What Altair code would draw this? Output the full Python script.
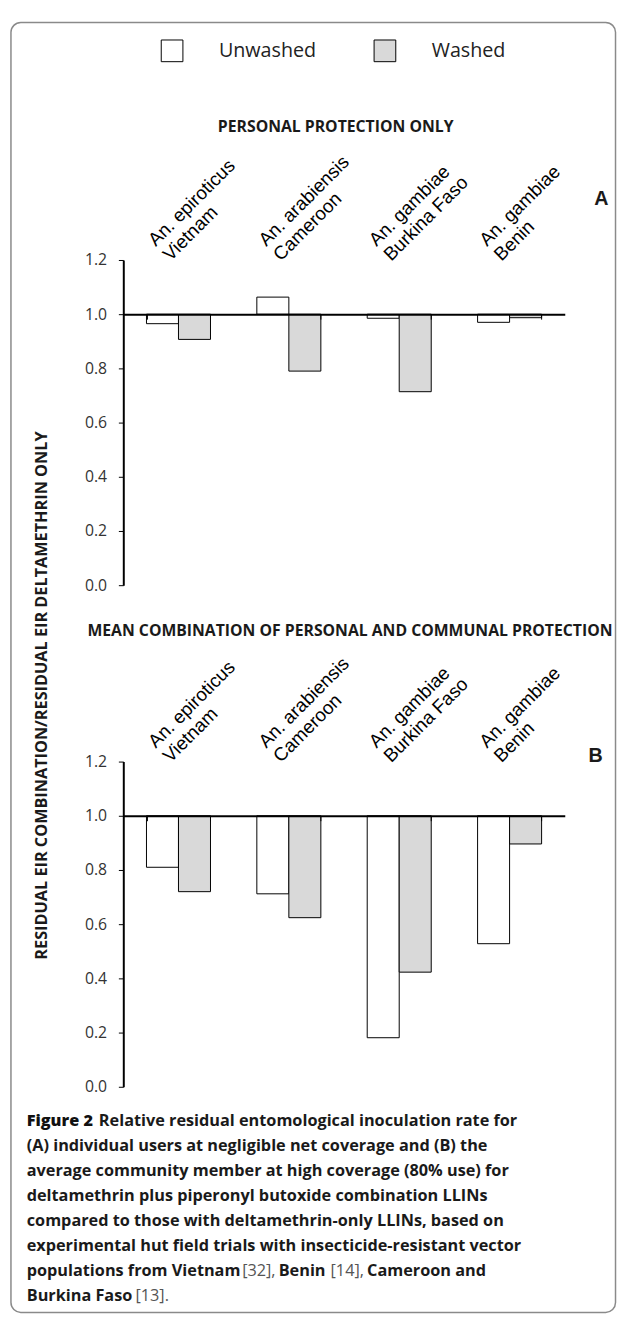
import altair as alt
import pandas as pd

# ---------------- data ----------------
species = ["An. epiroticus", "An. arabiensis", "An. gambiae", "An. gambiae"]
countries = ["Vietnam", "Cameroon", "Burkina Faso", "Benin"]
series = ["Unwashed", "Washed"]

unwashed_A = [0.965, 1.063, 0.985, 0.970]
washed_A = [0.907, 0.790, 0.714, 0.987]
unwashed_B = [0.810, 0.712, 0.181, 0.528]
washed_B = [0.720, 0.624, 0.423, 0.896]

y_ticks = [0.0, 0.1, 0.2, 0.3, 0.4, 0.5, 0.6, 0.7, 0.8, 0.9, 1.0, 1.1, 1.2]

caption_lines = [
    "(A) individual users at negligible net coverage and (B) the",
    "average community member at high coverage (80% use) for",
    "deltamethrin plus piperonyl butoxide combination LLINs",
    "compared to those with deltamethrin-only LLINs, based on",
    "experimental hut field trials with insecticide-resistant vector",
]

W, H = 448, 330
FONT = "Open Sans"


def bar_df(unw, wsh):
    rows = []
    for c, u, w in zip(countries, unw, wsh):
        rows.append({"cat": c, "wash": "Unwashed", "value": u})
        rows.append({"cat": c, "wash": "Washed", "value": w})
    return pd.DataFrame(rows)


label_df = pd.DataFrame({"cat": countries,
                         "label": [s + "\n" + c for s, c in zip(species, countries)]})


def txt(s, x, y, align="left", baseline="alphabetic", **kw):
    return alt.Chart(pd.DataFrame({"t": [s]})).mark_text(
        align=align, baseline=baseline, **kw
    ).encode(x=alt.value(x), y=alt.value(y), text="t:N")


x_enc = alt.X(
    "cat:N", sort=countries, title=None,
    scale=alt.Scale(paddingInner=0.42, paddingOuter=0.21),
    axis=alt.Axis(orient="bottom", offset=-275, labels=False, title=None,
                  domainColor="black", domainWidth=2, tickColor="black",
                  tickWidth=1, tickSize=5, tickBand="extent", grid=False,
                  zindex=1),
)

y_axis = alt.Axis(values=y_ticks, title=None, grid=False,
                  labelExpr="(round(datum.value*10) % 2 == 0) ? format(datum.value, '.1f') : ''",
                  tickSize=5, tickColor="black", tickWidth=1,
                  domainColor="black", domainWidth=2,
                  labelFont=FONT, labelFontSize=16, labelColor="#333333",
                  labelPadding=12)

fill_enc = alt.Fill(
    "wash:N", sort=series, title=None,
    scale=alt.Scale(domain=series, range=["white", "#d9d9d9"]),
    legend=alt.Legend(orient="none", legendX=38, legendY=-224,
                      direction="horizontal", title=None,
                      symbolType="square", symbolSize=484,
                      symbolStrokeColor="black", symbolStrokeWidth=1,
                      labelFont=FONT, labelFontSize=20, labelColor="#222222",
                      labelOffset=36, columnPadding=56),
)


def panel(unw, wsh):
    bars = alt.Chart(bar_df(unw, wsh)).mark_bar(stroke="black", strokeWidth=1).encode(
        x=x_enc,
        xOffset=alt.XOffset("wash:N", sort=series,
                            scale=alt.Scale(paddingInner=0, paddingOuter=0)),
        y=alt.Y("value:Q", scale=alt.Scale(domain=[0, 1.2], nice=False), axis=y_axis),
        y2=alt.datum(1.0),
        fill=fill_enc,
    )
    labels = alt.Chart(label_df).mark_text(
        align="left", baseline="alphabetic", angle=315, dx=-7, dy=-25.5,
        lineBreak="\n", lineHeight=21, font="Liberation Sans", fontSize=19,
        color="black",
    ).encode(x=alt.X("cat:N", sort=countries), y=alt.datum(1.2), text="label:N")
    return bars, labels


barsA, labelsA = panel(unwashed_A, washed_A)
barsB, labelsB = panel(unwashed_B, washed_B)

frame = alt.Chart(pd.DataFrame({"a": [0]})).mark_rect(
    fill="white", fillOpacity=0, stroke="#8a8a8a", strokeWidth=1.5, cornerRadius=10
).encode(x=alt.value(-114), x2=alt.value(499.5), y=alt.value(-241), y2=alt.value(1068))

bold = dict(font=FONT, fontWeight="bold", color="#1a1a1a")

panelA = alt.layer(
    frame, barsA, labelsA,
    txt("PERSONAL PROTECTION ONLY", 215.5, -130.3, align="center", fontSize=16, **bold),
    txt("A", 478, -56, font="Liberation Sans", fontWeight="bold", fontSize=20, color="#1a1a1a"),
    txt("RESIDUAL EIR COMBINATION/RESIDUAL EIR DELTAMETHRIN ONLY", -82, 442,
        align="center", baseline="middle", angle=270, fontSize=16.5, **bold),
).properties(width=W, height=H)

cap_y0 = 370
cap_dy = 25.3
CAP_FS = 16.5
cap_kw = dict(font=FONT, fontWeight="bold", fontSize=CAP_FS, color="#1a1a1a")
fig_kw = dict(font=FONT, fontWeight=800, fontSize=CAP_FS, color="#111111")
ref_kw = dict(font=FONT, fontWeight="normal", fontSize=CAP_FS, color="#555555")

caption = [
    txt("Figure 2", -98, cap_y0, **fig_kw),
    txt("Relative residual entomological inoculation rate for", -24.8, cap_y0, **cap_kw),
]
for i, line in enumerate(caption_lines):
    caption.append(txt(line, -98, cap_y0 + cap_dy * (i + 1), **cap_kw))
y7 = cap_y0 + cap_dy * 6
y8 = cap_y0 + cap_dy * 7
caption += [
    txt("populations from Vietnam", -98, y7, **cap_kw),
    txt("[32],", 120.6, y7, **ref_kw),
    txt("Benin", 157.7, y7, **cap_kw),
    txt("[14],", 210.3, y7, **ref_kw),
    txt("Cameroon and", 247.4, y7, **cap_kw),
    txt("Burkina Faso", -98, y8, **cap_kw),
    txt("[13].", 12.3, y8, **ref_kw),
]

panelB = alt.layer(
    barsB, labelsB,
    txt("MEAN COMBINATION OF PERSONAL AND COMMUNAL PROTECTION", 230, -127,
        align="center", fontSize=16, **bold),
    txt("B", 472, 0, font="Liberation Sans", fontWeight="bold", fontSize=20, color="#1a1a1a"),
    *caption,
).properties(width=W, height=H)

chart = alt.vconcat(panelA, panelB, spacing=179, bounds="flush").properties(
    padding={"left": 2, "top": 4, "right": 0, "bottom": 0}
).configure_view(stroke=None)

chart.save("out.html", embed_options={"renderer": "svg", "actions": False})
